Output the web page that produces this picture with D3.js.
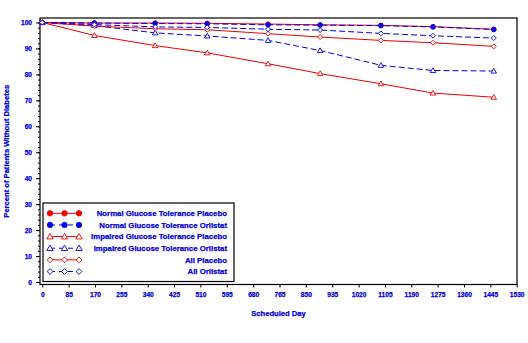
<!DOCTYPE html>
<html>
<head>
<meta charset="utf-8">
<script src="https://cdn.jsdelivr.net/npm/d3@7"></script>
<style>
  html, body { margin: 0; padding: 0; background: #fff; }
  svg { display: block; font-family: "Liberation Sans", Arial, sans-serif; }
</style>
</head>
<body>
<svg id="chart" width="528" height="343"></svg>
<script>
// Scheduled visit days and percent of patients still free of diabetes
const days = [0, 168, 364, 532, 728, 896, 1092, 1260, 1456];
const ngtPlacebo  = [100, 99.8, 99.8, 99.7, 99.4, 99.1, 98.9, 98.4, 97.4];
const ngtOrlistat = [100, 99.8, 99.6, 99.5, 99.1, 99.0, 98.8, 98.3, 97.3];
const igtPlacebo  = [100, 95.0, 91.1, 88.3, 84.1, 80.3, 76.4, 72.8, 71.2];
const igtOrlistat = [100, 98.8, 96.0, 94.8, 93.1, 89.2, 83.5, 81.5, 81.3];
const allPlacebo  = [100, 98.6, 97.6, 97.2, 95.7, 94.4, 93.1, 92.2, 90.8];
const allOrlistat = [100, 99.2, 98.3, 98.1, 97.4, 97.1, 95.8, 94.9, 94.0];

const xTicks = [0, 85, 170, 255, 340, 425, 510, 595, 680, 765, 850, 935, 1020, 1105, 1190, 1275, 1360, 1445, 1530];
const yTicks = [0, 10, 20, 30, 40, 50, 60, 70, 80, 90, 100];

const seriesNames = [
  "Normal Glucose Tolerance Placebo",
  "Normal Glucose Tolerance Orlistat",
  "Impaired Glucose Tolerance Placebo",
  "Impaired Glucose Tolerance Orlistat",
  "All Placebo",
  "All Orlistat"
];
const seriesValues = [ngtPlacebo, ngtOrlistat, igtPlacebo, igtOrlistat, allPlacebo, allOrlistat];

const RED = "#f00000", BLUE = "#0000e8", TEXT = "#0000e0";
const styles = [
  { color: RED,  dash: null,  symbol: "circle",   filled: true  },
  { color: BLUE, dash: "6,3", symbol: "circle",   filled: true  },
  { color: RED,  dash: null,  symbol: "triangle", filled: false },
  { color: BLUE, dash: "6,3", symbol: "triangle", filled: false },
  { color: RED,  dash: null,  symbol: "diamond",  filled: false },
  { color: BLUE, dash: "6,3", symbol: "diamond",  filled: false }
];

const svg = d3.select("#chart");
const frame = { left: 40, top: 18, right: 517, bottom: 284.5 };

const x = d3.scaleLinear().domain([0, 1530]).range([42.3, 516.7]);
const y = d3.scaleLinear().domain([0, 100]).range([282, 22.5]);

// heavy blue lettering used for every label
function heavyText(sel, size) {
  sel.attr("fill", TEXT).attr("stroke", TEXT).attr("stroke-width", 0.25)
    .attr("font-size", size).attr("font-weight", "bold")
    .attr("font-family", "Liberation Sans, Arial, sans-serif");
}

// plot frame
svg.append("rect")
  .attr("x", frame.left).attr("y", frame.top)
  .attr("width", frame.right - frame.left).attr("height", frame.bottom - frame.top)
  .attr("fill", "none").attr("stroke", "#000").attr("stroke-width", 1.2);

// x axis
const xAxis = d3.axisBottom(x).tickValues(xTicks).tickSize(3).tickFormat(d3.format("d"));
const gx = svg.append("g").attr("transform", `translate(0,${frame.bottom})`).call(xAxis);
gx.select(".domain").remove();
gx.selectAll(".tick line").attr("stroke", "#000");
gx.selectAll(".tick text").call(heavyText, 6.6).attr("dy", "0.71em").attr("y", 8);

// y axis, with minor ticks every 2%
const yMinor = d3.range(0, 101, 2);
const gyMinor = svg.append("g").attr("transform", `translate(${frame.left},0)`)
  .call(d3.axisLeft(y).tickValues(yMinor).tickSize(2).tickFormat(""));
gyMinor.select(".domain").remove();
gyMinor.selectAll(".tick line").attr("stroke", "#000");

const gy = svg.append("g").attr("transform", `translate(${frame.left},0)`)
  .call(d3.axisLeft(y).tickValues(yTicks).tickSize(4).tickPadding(4).tickFormat(d3.format("d")));
gy.select(".domain").remove();
gy.selectAll(".tick line").attr("stroke", "#000");
gy.selectAll(".tick text").call(heavyText, 6.6);

// axis titles
svg.append("text")
  .attr("x", (frame.left + frame.right) / 2).attr("y", 316)
  .attr("text-anchor", "middle").call(heavyText, 7.6)
  .text("Scheduled Day");

svg.append("text")
  .attr("transform", `translate(9,${(frame.top + frame.bottom) / 2}) rotate(-90)`)
  .attr("text-anchor", "middle").call(heavyText, 7.6)
  .text("Percent of Patients Without Diabetes");

// marker drawing helper
function drawMarker(g, cx, cy, st, size) {
  if (st.symbol === "circle") {
    g.append("circle").attr("cx", cx).attr("cy", cy).attr("r", size * 0.5)
      .attr("fill", st.color).attr("stroke", st.color).attr("stroke-width", 0.8);
  } else if (st.symbol === "triangle") {
    const h = size * 0.9, w = size * 0.55;
    g.append("path")
      .attr("d", `M${cx},${cy - h * 0.6}L${cx + w},${cy + h * 0.45}L${cx - w},${cy + h * 0.45}Z`)
      .attr("fill", "#fff").attr("stroke", st.color).attr("stroke-width", 0.9);
  } else {
    const r = size * 0.5;
    g.append("path")
      .attr("d", `M${cx},${cy - r}L${cx + r},${cy}L${cx},${cy + r}L${cx - r},${cy}Z`)
      .attr("fill", "#fff").attr("stroke", st.color).attr("stroke-width", 0.9);
  }
}

// series lines and markers
const line = d3.line().x(d => x(d[0])).y(d => y(d[1]));
const plot = svg.append("g");
seriesValues.forEach((vals, i) => {
  const st = styles[i];
  const pts = days.map((d, j) => [d, vals[j]]);
  plot.append("path").datum(pts)
    .attr("d", line).attr("fill", "none")
    .attr("stroke", st.color).attr("stroke-width", 1)
    .attr("stroke-dasharray", st.dash);
  const mg = plot.append("g");
  pts.forEach(p => drawMarker(mg, x(p[0]), y(p[1]), st, st.symbol === "circle" ? 4.6 : 5));
});

// legend
const lg = svg.append("g");
lg.append("rect").attr("x", 43).attr("y", 203).attr("width", 191).attr("height", 78.5)
  .attr("fill", "#fff").attr("stroke", "#000").attr("stroke-width", 1.2);
const rowY = d3.scalePoint().domain(d3.range(seriesNames.length)).range([213.3, 271.5]);
seriesNames.forEach((name, i) => {
  const st = styles[i];
  const cy = rowY(i);
  const xs = [50, 64.5, 79];
  lg.append("line").attr("x1", xs[0]).attr("x2", xs[2]).attr("y1", cy).attr("y2", cy)
    .attr("stroke", st.color).attr("stroke-width", 1)
    .attr("stroke-dasharray", st.dash ? "5,4" : null);
  xs.forEach(cx => drawMarker(lg, cx, cy, st, st.symbol === "circle" ? 5.5 : 5.8));
  lg.append("text").attr("x", 227).attr("y", cy + 2.7)
    .attr("text-anchor", "end").call(heavyText, 7.8)
    .text(name);
});
</script>
</body>
</html>
